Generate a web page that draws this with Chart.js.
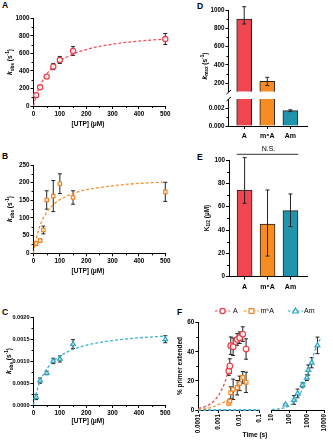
<!DOCTYPE html>
<html><head><meta charset="utf-8">
<script src="https://cdn.jsdelivr.net/npm/chart.js@4"></script>
<style>
html,body{margin:0;padding:0;background:#fff}
body{width:333px;height:440px;position:relative;overflow:hidden;font-family:'Liberation Sans',Arial,sans-serif}
.lbl{position:absolute;font:bold 8.5px 'Liberation Sans',Arial,sans-serif;line-height:8.5px;color:#000}
</style></head><body>
<div class="lbl" style="left:2px;top:0.8px">A</div>
<div class="lbl" style="left:2px;top:151.6px">B</div>
<div class="lbl" style="left:2px;top:308px">C</div>
<div class="lbl" style="left:197px;top:2px">D</div>
<div class="lbl" style="left:197px;top:153px">E</div>
<div class="lbl" style="left:177px;top:308px">F</div>
<script>
// ---------------- DATA ----------------
const utpA = [10, 25, 50, 75, 100, 150, 500];
const kobsA = [122, 213, 335, 449, 525, 627, 764];
const kobsAErr = [15, 20, 20, 35, 40, 50, 63];
const utpB = [10, 25, 37.5, 50, 75, 100, 150, 500];
const kobsB = [28, 36, 66, 151, 162, 197, 158, 174];
const kobsBErr = [5, 4, 11, 26, 44, 28, 19, 27];
const utpC = [10, 25, 50, 75, 100, 150, 500];
const kobsC = [0.000183, 0.000555, 0.00073, 0.001004, 0.00105, 0.00139, 0.0015];
const kobsCErr = [0.00006, 0.00006, 0.00004, 0.00006, 0.00007, 0.0001, 0.00008];
// dashed fit curves
const fitUtp = [0, 5, 10, 25, 50, 75, 100, 150, 200, 250, 300, 350, 400, 450, 500];
const fitA = [0, 58, 109, 229, 363, 450, 512, 593, 644, 680, 705, 725, 740, 753, 763];
const fitB = [0, 22, 40, 79, 116, 138, 152, 169, 180, 186, 191, 195, 198, 200, 202];
const fitC = [0, 0.000141, 0.000261, 0.000534, 0.000818, 0.000994, 0.001115, 0.001268, 0.001362, 0.001425, 0.00147, 0.001505, 0.001532, 0.001553, 0.001571];
// D / E bars
const nucleotides = ['A', 'm\u2076A', 'Am'];
const kmax = [900, 220, 0.0017];
const kmaxErrLo = [847, 175, 0.0016];
const kmaxErrHi = [1036, 265, 0.0018];
const khalf = [74.3, 45.1, 56.6];
const khalfErrLo = [62.9, 17.7, 42.9];
const khalfErrHi = [102, 74.3, 70.9];
// F time courses
const timeA = [0.00313, 0.0035, 0.0039, 0.0051, 0.0081, 0.0107, 0.0151, 0.022];
const extA = [26.8, 30.2, 44.2, 43.5, 48.5, 49.7, 52.2, 41.9];
const extAErr = [3, 5, 6, 6, 4, 4, 5, 7];
const extM6A = [4.6, 6.2, 11.9, 14.2, 15.3, 18.3, 22.4, 19];
const extM6AErr = [1, 1, 4, 7, 5, 5, 4, 7];
const fitTimeFast = [0.0001, 0.0002, 0.0005, 0.001, 0.002, 0.003, 0.0035];
const fitExtA = [1.1, 2.2, 5.4, 10.3, 19, 27, 30];
const fitExtM6A = [0.42, 0.83, 2.0, 3.8, 5.6, 6.9, 7.4];
const fitTimeAmFast = [0.0001, 0.1];
const fitExtAmFast = [0, 0];
const timeAm = [61, 185, 295, 563, 1000, 1210, 1870, 4000];
const extAm = [3.7, 6.9, 11.4, 17.2, 22.2, 27.5, 32.5, 44.4];
const extAmErr = [0.5, 3, 3, 1.5, 2, 3.5, 3.5, 5.7];
const fitTimeSlow = [10, 20, 50, 100, 200, 500, 1000, 2000, 4000, 7000];
const fitExtAm = [0.3, 0.6, 1.5, 2.9, 5.8, 13, 22.6, 34.9, 45.5, 50];
// tick labels
const ticksA = [0, 200, 400, 600, 800, 1000];
const ticksB = [0, 50, 100, 150, 200, 250];
const ticksC = [0, 0.0005, 0.001, 0.0015, 0.002];
const ticksUtp = [0, 100, 200, 300, 400, 500];
const ticksDUp = [200, 400, 600, 800, 1000];
const ticksDLow = [0, 0.002];
const ticksE = [0, 20, 40, 60, 80, 100];
const ticksF = [0, 20, 40, 60];
const ticksTimeFast = [0.0001, 0.001, 0.01, 0.1];
const ticksTimeSlow = [10, 100, 1000, 10000];

// ---------------- STYLE ----------------
const COL = {red:'#ec3b47', redFit:'#f04f5a', orange:'#f5861f', orangeFit:'#f7922e', teal:'#2aa3c0', tealFit:'#3fb2d3',
  barRed:'#ef4650', barOrange:'#f78c22', barTeal:'#2094ad'};
const FONT = "'Liberation Sans', Arial, sans-serif";
Chart.defaults.font.family = FONT;
Chart.defaults.font.size = 6.3;
Chart.defaults.font.weight = 'bold';
Chart.defaults.color = '#000';
Chart.defaults.animation = false;
Chart.defaults.plugins.legend.display = false;
Chart.defaults.plugins.tooltip.enabled = false;

function axis(o){
  return {
    type: o.type || 'linear', min: o.min, max: o.max, offset: false,
    border: {display: !o.hide, color: '#000', width: 1},
    grid: {display: !o.hide, offset: false, drawOnChartArea: false, drawTicks: true, tickLength: 3, color: '#000', tickWidth: 1},
    ticks: {display: !o.hide, autoSkip: false, padding: o.pad ?? 1, maxRotation: o.rot || 0, minRotation: o.rot || 0,
      font: o.font || undefined, callback: (v) => o.fmt ? o.fmt(v) : String(v)},
    afterBuildTicks: s => { if (o.ticks) s.ticks = o.ticks.map(v => ({value: v})); }
  };
}
const pts = (xs, ys) => xs.map((x, i) => ({x, y: ys[i]}));
const errsSym = (ys, es) => ys.map((y, i) => [y - es[i], y + es[i]]);

function rich(ctx, x, y, parts, size, rot){
  ctx.save(); ctx.translate(x, y); if (rot) ctx.rotate(rot);
  const f = parts.map(p => {
    const small = p[1] === 'sub' || p[1] === 'sup';
    const s = small ? size * 0.72 : size;
    return {font: (p[1] === 'i' ? 'italic ' : '') + 'bold ' + s + 'px ' + FONT,
      dy: p[1] === 'sub' ? size * 0.3 : p[1] === 'sup' ? -size * 0.38 : 0};
  });
  let w = 0;
  parts.forEach((p, i) => { ctx.font = f[i].font; w += ctx.measureText(p[0]).width; });
  let cx = -w / 2; ctx.textBaseline = 'middle'; ctx.fillStyle = '#000'; ctx.textAlign = 'left';
  parts.forEach((p, i) => { ctx.font = f[i].font; ctx.fillText(p[0], cx, f[i].dy); cx += ctx.measureText(p[0]).width; });
  ctx.restore();
}

function drawErr(chart){
  const ctx = chart.ctx;
  chart.data.datasets.forEach((ds, i) => {
    if (!ds.errs) return;
    const meta = chart.getDatasetMeta(i);
    const ys = chart.scales[meta.yAxisID];
    ctx.save(); ctx.strokeStyle = '#222'; ctx.lineWidth = 1;
    ds.errs.forEach((e, j) => {
      const el = meta.data[j];
      if (!e || !el) return;
      const x = el.x, y1 = ys.getPixelForValue(e[0]), y2 = ys.getPixelForValue(e[1]);
      ctx.beginPath();
      ctx.moveTo(x, y1); ctx.lineTo(x, y2);
      ctx.moveTo(x - 2, y1); ctx.lineTo(x + 2, y1);
      ctx.moveTo(x - 2, y2); ctx.lineTo(x + 2, y2);
      ctx.stroke();
    });
    ctx.restore();
  });
}

function panel(L, T, W, H, area, cfg, ex){
  ex = ex || {};
  const c = document.createElement('canvas');
  c.width = W; c.height = H;
  c.style.cssText = `position:absolute;left:${L}px;top:${T}px;width:${W}px;height:${H}px`;
  document.body.appendChild(c);
  const o = cfg.options;
  o.responsive = false; o.maintainAspectRatio = false; o.animation = false;
  o.layout = {padding: {left: 0, top: area.t - T, right: L + W - area.r, bottom: 0}};
  o.scales.x.afterFit = s => { s.height = T + H - area.b; };
  o.scales.y.afterFit = s => { s.width = area.l - L; };
  cfg.plugins = [{
    id: 'deco',
    beforeDatasetsDraw(chart){ if (!ex.errTop) drawErr(chart); },
    afterDatasetsDraw(chart){ if (ex.errTop) drawErr(chart); },
    afterDraw(chart){
      const ctx = chart.ctx, ca = chart.chartArea;
      ctx.save(); ctx.strokeStyle = '#000'; ctx.lineWidth = 1;
      (ex.minorY || []).forEach(v => {
        const p = Math.round(chart.scales.y.getPixelForValue(v)) + 0.5;
        ctx.beginPath(); ctx.moveTo(ca.left - 2, p); ctx.lineTo(ca.left, p); ctx.stroke();
      });
      (ex.minorX || []).forEach(v => {
        const p = Math.round(chart.scales.x.getPixelForValue(v)) + 0.5;
        ctx.beginPath(); ctx.moveTo(p, ca.bottom); ctx.lineTo(p, ca.bottom + 2); ctx.stroke();
      });
      ctx.translate(-L, -T);
      (ex.texts || []).forEach(t => rich(ctx, t.x, t.y, t.parts, t.size || 6.5, t.rot));
      if (ex.draw) ex.draw(ctx, chart);
      ctx.restore();
    }
  }];
  return new Chart(c, cfg);
}

const fitDs = (xs, ys, col) => ({data: pts(xs, ys), showLine: true, pointRadius: 0, borderColor: col,
  borderWidth: 1.3, borderDash: [3, 2], cubicInterpolationMode: 'monotone', clip: false});
const ptDs = (xs, ys, errs, col, style, r) => ({data: pts(xs, ys), showLine: false, pointStyle: style,
  pointRadius: r || 2.6, pointBorderWidth: 1.2, pointBorderColor: col, pointBackgroundColor: 'rgba(255,255,255,0.85)', errs, clip: false});
const kobsTitle = [['k', 'i'], ['obs', 'sub'], [' (s', ''], ['-1', 'sup'], [')', '']];
const utpTitle = [['[UTP] (\u03bcM)', '']];

// ---------------- A ----------------
panel(0, 0, 176, 132, {l: 33.5, r: 165.3, t: 18.3, b: 106}, {
  type: 'scatter',
  data: {datasets: [ptDs(utpA, kobsA, errsSym(kobsA, kobsAErr), COL.red, 'circle'), fitDs(fitUtp, fitA, COL.redFit)]},
  options: {scales: {x: axis({min: 0, max: 500, ticks: ticksUtp}), y: axis({min: 0, max: 1000, ticks: ticksA})}}
}, {minorY: [100, 300, 500, 700, 900], minorX: [50, 150, 250, 350, 450],
  texts: [{x: 10.5, y: 62, parts: kobsTitle, rot: -Math.PI / 2}, {x: 88, y: 124, parts: utpTitle}]});

// ---------------- B ----------------
panel(0, 140, 176, 140, {l: 33.5, r: 165.3, t: 165, b: 253.3}, {
  type: 'scatter',
  data: {datasets: [ptDs(utpB, kobsB, errsSym(kobsB, kobsBErr), COL.orange, 'rect', 2.4), fitDs(fitUtp, fitB, COL.orangeFit)]},
  options: {scales: {x: axis({min: 0, max: 500, ticks: ticksUtp}), y: axis({min: 0, max: 250, ticks: ticksB})}}
}, {minorY: [25, 75, 125, 175, 225], minorX: [50, 150, 250, 350, 450],
  texts: [{x: 10.5, y: 209, parts: kobsTitle, rot: -Math.PI / 2}, {x: 88, y: 271, parts: utpTitle}]});

// ---------------- C ----------------
panel(0, 290, 176, 140, {l: 33.5, r: 165.3, t: 317.3, b: 405}, {
  type: 'scatter',
  data: {datasets: [ptDs(utpC, kobsC, errsSym(kobsC, kobsCErr), COL.teal, 'triangle'), fitDs(fitUtp, fitC, COL.tealFit)]},
  options: {scales: {x: axis({min: 0, max: 500, ticks: ticksUtp}),
    y: axis({min: 0, max: 0.002, ticks: ticksC, fmt: v => v.toFixed(4), font: {size: 5.6, weight: 'bold'}})}}
}, {minorY: [0.00025, 0.00075, 0.00125, 0.00175], minorX: [50, 150, 250, 350, 450],
  texts: [{x: 9.5, y: 361, parts: kobsTitle, rot: -Math.PI / 2}, {x: 88, y: 421.7, parts: utpTitle}]});

// ---------------- D (broken axis) ----------------
const barCols = [COL.barRed, COL.barOrange, COL.barTeal];
const catFmt = v => nucleotides[Math.round(v) - 1] || '';
const barDs = (vals, lo, hi) => ({data: vals.map((v, i) => ({x: i + 1, y: v})), backgroundColor: barCols,
  borderColor: '#222', borderWidth: 1, borderSkipped: 'bottom', barThickness: 15, maxBarThickness: 15,
  errs: vals.map((v, i) => (lo[i] == null ? null : [lo[i], hi[i]]))});
panel(170, 0, 163, 100, {l: 228.5, r: 307, t: 10, b: 91.5}, {
  type: 'bar',
  data: {datasets: [barDs([kmax[0], kmax[1], null], [kmaxErrLo[0], kmaxErrLo[1], null], [kmaxErrHi[0], kmaxErrHi[1], null])]},
  options: {scales: {x: axis({min: 0.32, max: 3.72, ticks: [1, 2, 3], hide: true}),
    y: axis({min: 110, max: 1000, ticks: ticksDUp})}}
}, {errTop: true, minorY: [300, 500, 700, 900],
  texts: [{x: 205, y: 66, parts: [['k', 'i'], ['max', 'sub'], [' (s', ''], ['-1', 'sup'], [')', '']], rot: -Math.PI / 2}],
  draw: (ctx) => { ctx.strokeStyle = '#000'; ctx.lineWidth = 1; ctx.beginPath(); ctx.moveTo(226.5, 94); ctx.lineTo(231, 90); ctx.stroke(); }});
panel(170, 93, 163, 50, {l: 228.5, r: 307, t: 99, b: 126}, {
  type: 'bar',
  data: {datasets: [barDs([kmax[0], kmax[1], kmax[2]], [null, null, kmaxErrLo[2]], [null, null, kmaxErrHi[2]])]},
  options: {scales: {x: axis({min: 0.32, max: 3.72, ticks: [1, 2, 3], fmt: catFmt, pad: 3, font: {size: 7, weight: 'bold'}}),
    y: axis({min: 0, max: 0.003, ticks: ticksDLow, fmt: v => v.toFixed(3)})}}
}, {errTop: true, minorY: [0.001],
  draw: (ctx) => { ctx.strokeStyle = '#000'; ctx.lineWidth = 1; ctx.beginPath(); ctx.moveTo(226.5, 101); ctx.lineTo(231, 97); ctx.stroke(); }});

// ---------------- E ----------------
panel(170, 143, 163, 152, {l: 229, r: 307, t: 160, b: 276.7}, {
  type: 'bar',
  data: {datasets: [barDs(khalf, khalfErrLo, khalfErrHi)]},
  options: {scales: {x: axis({min: 0.32, max: 3.72, ticks: [1, 2, 3], fmt: catFmt, pad: 3, font: {size: 7, weight: 'bold'}}),
    y: axis({min: 0, max: 100, ticks: ticksE})}}
}, {errTop: true, minorY: [10, 30, 50, 70, 90],
  texts: [{x: 207, y: 218, parts: [['K', ''], ['1/2', 'sub'], [' (\u00b5M)', '']], rot: -Math.PI / 2}],
  draw: (ctx) => {
    ctx.strokeStyle = '#000'; ctx.lineWidth = 0.8; ctx.beginPath(); ctx.moveTo(236.7, 154.3); ctx.lineTo(298.3, 154.3); ctx.stroke();
    ctx.font = '7px ' + FONT; ctx.fillStyle = '#000'; ctx.textAlign = 'center'; ctx.textBaseline = 'middle';
    ctx.fillText('N.S.', 268.5, 149.5);
  }});

// ---------------- F ----------------
const fmtTime = v => ({0.0001: '0.0001', 0.001: '0.001', 0.01: '0.01', 0.1: '0.1'}[v] ?? String(v));
function legendSym(ctx, cx, cy, col, style){
  ctx.save(); ctx.strokeStyle = col; ctx.lineWidth = 1.2; ctx.setLineDash([2.5, 2]);
  ctx.beginPath(); ctx.moveTo(cx - 7.5, cy); ctx.lineTo(cx + 7.5, cy); ctx.stroke();
  ctx.setLineDash([]); ctx.fillStyle = '#fff'; ctx.beginPath();
  if (style === 'circle') ctx.arc(cx, cy, 2.6, 0, Math.PI * 2);
  else if (style === 'rect') ctx.rect(cx - 2.4, cy - 2.4, 4.8, 4.8);
  else { ctx.moveTo(cx, cy - 3); ctx.lineTo(cx + 2.8, cy + 2); ctx.lineTo(cx - 2.8, cy + 2); ctx.closePath(); }
  ctx.fill(); ctx.stroke(); ctx.restore();
}
panel(170, 300, 163, 140, {l: 198.3, r: 259.5, t: 322.7, b: 410}, {
  type: 'scatter',
  data: {datasets: [
    ptDs(timeA, extA, errsSym(extA, extAErr), COL.red, 'circle', 2.8),
    ptDs(timeA, extM6A, errsSym(extM6A, extM6AErr), COL.orange, 'rect', 2.6),
    fitDs(fitTimeFast, fitExtA, COL.redFit),
    fitDs(fitTimeFast, fitExtM6A, COL.orangeFit),
    Object.assign(fitDs(fitTimeAmFast, fitExtAmFast, COL.tealFit), {borderWidth: 1.8})
  ]},
  options: {scales: {x: axis({type: 'logarithmic', min: 0.0001, max: 0.1, ticks: ticksTimeFast, fmt: fmtTime, rot: 90}),
    y: axis({min: 0, max: 60, ticks: ticksF})}}
}, {minorY: [10, 30, 50],
  texts: [{x: 180, y: 366, parts: [['% primer extended', '']], rot: -Math.PI / 2}, {x: 255, y: 435, parts: [['Time (s)', '']]}],
  draw: (ctx) => {
    legendSym(ctx, 222.5, 311, COL.red, 'circle');
    legendSym(ctx, 251.5, 311, COL.orange, 'rect');
    legendSym(ctx, 295.5, 311, COL.teal, 'triangle');
    ctx.font = '7px ' + FONT; ctx.fillStyle = '#000'; ctx.textAlign = 'left'; ctx.textBaseline = 'middle';
    ctx.fillText('A', 233, 311.5); ctx.fillText('m\u2076A', 260.5, 311.5); ctx.fillText('Am', 304, 311.5);
  }});
panel(262, 300, 71, 140, {l: 271.7, r: 329.3, t: 322.7, b: 410}, {
  type: 'scatter',
  data: {datasets: [
    ptDs(timeAm, extAm, errsSym(extAm, extAmErr), COL.teal, 'triangle', 2.8),
    fitDs(fitTimeSlow, fitExtAm, COL.tealFit)
  ]},
  options: {scales: {x: axis({type: 'logarithmic', min: 10, max: 10000, ticks: ticksTimeSlow, rot: 90}),
    y: axis({min: 0, max: 60, hide: true})}}
}, {});
</script>
</body></html>
